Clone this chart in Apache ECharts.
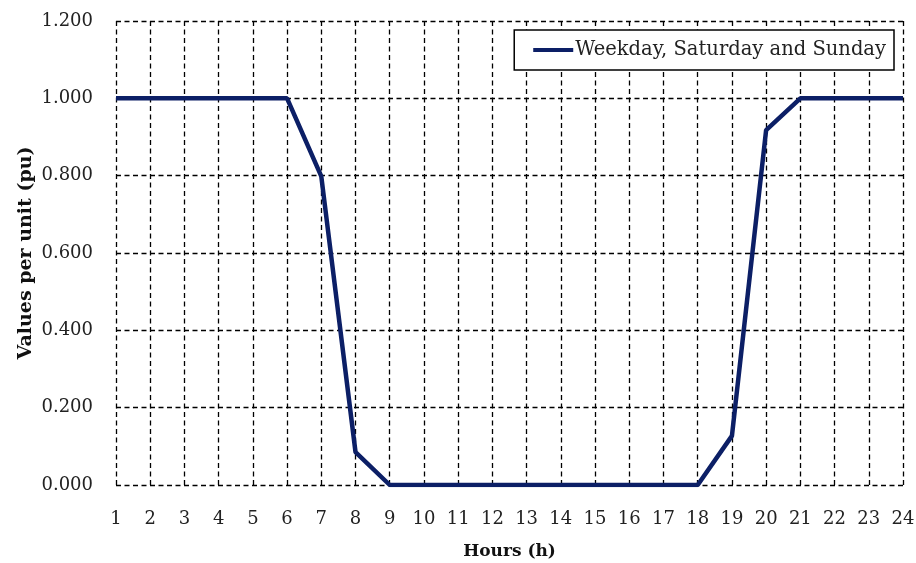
<!DOCTYPE html>
<html>
<head>
<meta charset="utf-8">
<script src="https://cdn.jsdelivr.net/npm/echarts@6/dist/echarts.min.js"></script>
<style>html,body{margin:0;padding:0;background:#fff}#c{width:916px;height:563px}</style>
</head>
<body>
<div id="c"></div>
<script>
const hours = [1,2,3,4,5,6,7,8,9,10,11,12,13,14,15,16,17,18,19,20,21,22,23,24];
const values = [1,1,1,1,1,1,0.798,0.085,0,0,0,0,0,0,0,0,0,0,0.127,0.918,1,1,1,1];
const seriesName = 'Weekday, Saturday and Sunday';
const xTitle = 'Hours (h)';
const yTitle = 'Values per unit (pu)';

const FONT = 'DejaVu Serif';
const chart = echarts.init(document.getElementById('c'));
const dashed = {show:true, lineStyle:{color:'#000', type:[5,3.5], width:1.3}};
chart.setOption({
  animation:false,
  grid:{left:116, right:13, top:21, bottom:78, show:false, containLabel:false, outerBoundsMode:'none'},
  legend:{
    right:22, top:30, orient:'horizontal',
    data:[seriesName],
    itemWidth:40, itemHeight:4, itemGap:4,
    icon:'rect',
    borderColor:'#000', borderWidth:1.5, padding:[10,8,10,19],
    backgroundColor:'#fff',
    textStyle:{fontFamily:FONT, fontSize:19.5, color:'#222', padding:[0,0,0,-3]}
  },
  xAxis:{
    type:'value', min:1, max:24, interval:1,
    name:xTitle, nameLocation:'middle', nameGap:58, nameMoveOverlap:false,
    nameTextStyle:{fontFamily:FONT, fontSize:17, fontWeight:'bold', color:'#111'},
    axisLine:{show:false}, axisTick:{show:false},
    axisLabel:{fontFamily:FONT, fontSize:18, color:'#222', margin:25},
    splitLine:dashed
  },
  yAxis:{
    type:'value', min:0, max:1.2, interval:0.2,
    name:yTitle, nameLocation:'middle', nameGap:80, nameMoveOverlap:false,
    nameTextStyle:{fontFamily:FONT, fontSize:19, fontWeight:'bold', color:'#111'},
    axisLine:{show:false}, axisTick:{show:false},
    axisLabel:{fontFamily:FONT, fontSize:18, color:'#222', margin:23, formatter:v=>v.toFixed(3)},
    splitLine:dashed
  },
  series:[{
    name:seriesName, type:'line', symbol:'none',
    data:hours.map((h,i)=>[h, values[i]]),
    lineStyle:{color:'#0c1f66', width:4.5},
    itemStyle:{color:'#0c1f66'}
  }]
});
</script>
</body>
</html>
